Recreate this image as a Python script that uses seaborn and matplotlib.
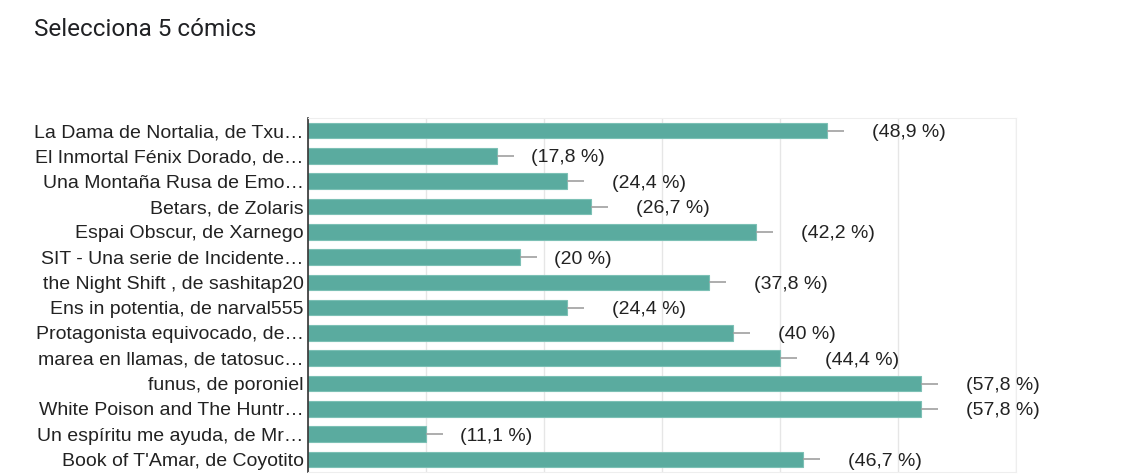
import pandas as pd
import matplotlib
matplotlib.use("Agg")
import matplotlib.pyplot as plt
import seaborn as sns

# Datos de la encuesta (45 respuestas)
comics = [
    "La Dama de Nortalia, de Txu…",
    "El Inmortal Fénix Dorado, de…",
    "Una Montaña Rusa de Emo…",
    "Betars, de Zolaris",
    "Espai Obscur, de Xarnego",
    "SIT - Una serie de Incidente…",
    "the Night Shift , de sashitap20",
    "Ens in potentia, de narval555",
    "Protagonista equivocado, de…",
    "marea en llamas, de tatosuc…",
    "funus, de poroniel",
    "White Poison and The Huntr…",
    "Un espíritu me ayuda, de Mr…",
    "Book of T'Amar, de Coyotito",
]
votos = [22, 8, 11, 12, 19, 9, 17, 11, 18, 20, 26, 26, 5, 21]
porcentajes = ["48,9", "17,8", "24,4", "26,7", "42,2", "20", "37,8",
               "24,4", "40", "44,4", "57,8", "57,8", "11,1", "46,7"]

df = pd.DataFrame({"comic": comics, "votos": votos})

sns.set_style("white")
plt.rcParams["font.family"] = ["Liberation Sans", "DejaVu Sans"]

fig = plt.figure(figsize=(11.45, 4.76), dpi=100)
ax = fig.add_axes([0.269, 0.0084, 0.618, 0.7437])

sns.barplot(data=df, y="comic", x="votos", color="#5aab9f", saturation=1,
            width=0.62, edgecolor="#7cc0b5", linewidth=0.8, ax=ax)

# Pequeña línea gris a la derecha de cada barra
ax.errorbar(df["votos"], range(len(df)), xerr=[[0] * len(df), [0.72] * len(df)],
            fmt="none", ecolor="#a0a0a0", elinewidth=1.2, capsize=0, zorder=3)

# Etiquetas de porcentaje
for i, (v, p) in enumerate(zip(votos, porcentajes)):
    ax.annotate(f"({p} %)", xy=(v, i), xytext=(23 + 11 * len(str(v)), -2),
                textcoords="offset pixels", ha="left", va="center",
                fontsize=14, color="#222222", annotation_clip=False)

ax.set_xlim(0, 30)
ax.set_ylim(len(df) - 0.5, -0.5)
ax.set_xticks(range(0, 31, 5))
ax.xaxis.grid(True, color="#e6e6e6", linewidth=1)
ax.set_axisbelow(True)
ax.tick_params(axis="x", bottom=False, labelbottom=False)
ax.tick_params(axis="y", left=False, length=0, pad=3, labelsize=14, labelcolor="#222222")
ax.set_xlabel("")
ax.set_ylabel("")

for s in ["top", "right", "bottom"]:
    ax.spines[s].set_color("#eeeeee")
ax.spines["left"].set_color("#333333")
ax.spines["left"].set_linewidth(1.2)

fig.text(34 / 1145, 1 - 30 / 476, "Selecciona 5 cómics", fontsize=17.5,
         family=["Roboto", "DejaVu Sans"], color="#202124", va="center", ha="left")

fig.savefig("out.png", dpi=100)
